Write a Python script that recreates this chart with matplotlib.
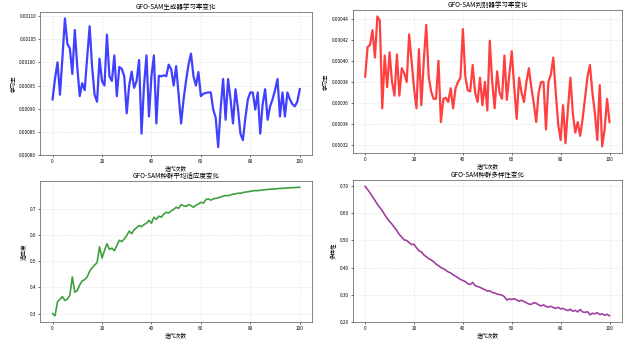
import matplotlib
matplotlib.use("Agg")
import matplotlib.pyplot as plt
import numpy as np

plt.rcParams['font.family'] = ['Noto Sans CJK SC', 'DejaVu Sans']
plt.rcParams['axes.unicode_minus'] = False

iterations = list(range(101))

gen_lr = [
    0.000920, 0.000965, 0.001000, 0.000930, 0.001010, 0.001095, 0.001040, 0.001030, 0.000975, 0.001070,
    0.000990, 0.000927, 0.000955, 0.000940, 0.001010, 0.001078, 0.000990, 0.000930, 0.000915, 0.001008,
    0.000960, 0.000950, 0.001060, 0.000970, 0.000960, 0.001015, 0.000927, 0.000990, 0.000986, 0.000970,
    0.000890, 0.000950, 0.000980, 0.000945, 0.000960, 0.001005, 0.000846, 0.000950, 0.001015, 0.000883,
    0.000970, 0.001015, 0.000868, 0.000971, 0.000970, 0.000972, 0.000970, 0.000995, 0.000985, 0.000950,
    0.000992, 0.000930, 0.000868, 0.000920, 0.000960, 0.000995, 0.001019, 0.000970, 0.000950, 0.000979,
    0.000927, 0.000932, 0.000934, 0.000935, 0.000935, 0.000898, 0.000880, 0.000817, 0.000900, 0.000964,
    0.000876, 0.000964, 0.000920, 0.000868, 0.000942, 0.000900, 0.000846, 0.000832, 0.000880, 0.000920,
    0.000935, 0.000935, 0.000898, 0.000935, 0.000846, 0.000910, 0.000942, 0.000876, 0.000905, 0.000920,
    0.000940, 0.000964, 0.000883, 0.000935, 0.000883, 0.000935, 0.000920, 0.000910, 0.000905, 0.000915,
    0.000942,
]

disc_lr = [
    0.000385, 0.000413, 0.000415, 0.000429, 0.000403, 0.000442, 0.000438, 0.000355, 0.000405, 0.000375,
    0.000408, 0.000380, 0.000367, 0.000406, 0.000367, 0.000393, 0.000388, 0.000380, 0.000425, 0.000400,
    0.000374, 0.000355, 0.000411, 0.000358, 0.000400, 0.000434, 0.000385, 0.000371, 0.000364, 0.000364,
    0.000400, 0.000342, 0.000364, 0.000365, 0.000361, 0.000374, 0.000355, 0.000374, 0.000380, 0.000384,
    0.000430, 0.000385, 0.000372, 0.000371, 0.000396, 0.000370, 0.000361, 0.000384, 0.000358, 0.000380,
    0.000353, 0.000419, 0.000380, 0.000355, 0.000390, 0.000370, 0.000364, 0.000405, 0.000363, 0.000387,
    0.000409, 0.000375, 0.000345, 0.000384, 0.000370, 0.000361, 0.000380, 0.000393, 0.000375, 0.000360,
    0.000342, 0.000370, 0.000380, 0.000380, 0.000335, 0.000380, 0.000387, 0.000403, 0.000370, 0.000340,
    0.000325, 0.000358, 0.000322, 0.000355, 0.000384, 0.000350, 0.000332, 0.000342, 0.000329, 0.000345,
    0.000365, 0.000385, 0.000396, 0.000370, 0.000351, 0.000325, 0.000377, 0.000319, 0.000335, 0.000364,
    0.000342,
]

fitness = [
    0.300, 0.292, 0.345, 0.355, 0.365, 0.350, 0.356, 0.370, 0.440, 0.382,
    0.388, 0.410, 0.425, 0.430, 0.440, 0.462, 0.475, 0.485, 0.495, 0.555,
    0.512, 0.540, 0.567, 0.545, 0.550, 0.540, 0.560, 0.580, 0.575, 0.585,
    0.598, 0.615, 0.605, 0.620, 0.628, 0.636, 0.632, 0.640, 0.645, 0.656,
    0.645, 0.668, 0.660, 0.672, 0.668, 0.680, 0.687, 0.684, 0.692, 0.698,
    0.706, 0.702, 0.716, 0.712, 0.709, 0.716, 0.712, 0.706, 0.714, 0.718,
    0.725, 0.722, 0.735, 0.738, 0.733, 0.738, 0.740, 0.742, 0.745, 0.748,
    0.751, 0.750, 0.753, 0.756, 0.757, 0.760, 0.759, 0.762, 0.764, 0.765,
    0.767, 0.768, 0.770, 0.769, 0.771, 0.772, 0.773, 0.774, 0.775, 0.775,
    0.776, 0.777, 0.778, 0.778, 0.779, 0.780, 0.780, 0.781, 0.781, 0.782,
    0.782,
]

diversity = [
    0.700, 0.688, 0.676, 0.662, 0.648, 0.634, 0.622, 0.610, 0.595, 0.582,
    0.570, 0.560, 0.548, 0.536, 0.522, 0.512, 0.502, 0.500, 0.492, 0.485,
    0.486, 0.473, 0.462, 0.458, 0.447, 0.440, 0.433, 0.428, 0.422, 0.413,
    0.407, 0.400, 0.396, 0.390, 0.384, 0.380, 0.373, 0.368, 0.362, 0.356,
    0.352, 0.348, 0.340, 0.337, 0.345, 0.333, 0.330, 0.327, 0.322, 0.318,
    0.313, 0.314, 0.308, 0.306, 0.302, 0.300, 0.298, 0.292, 0.280, 0.284,
    0.282, 0.285, 0.280, 0.276, 0.279, 0.274, 0.270, 0.265, 0.264, 0.270,
    0.268, 0.262, 0.258, 0.262, 0.256, 0.254, 0.257, 0.252, 0.249, 0.253,
    0.247, 0.249, 0.244, 0.241, 0.246, 0.238, 0.242, 0.236, 0.245, 0.236,
    0.234, 0.237, 0.225, 0.231, 0.229, 0.233, 0.226, 0.229, 0.224, 0.227,
    0.222,
]

titles = [
    "GFO-SAM生成器学习率变化",
    "GFO-SAM判别器学习率变化",
    "GFO-SAM种群平均适应度变化",
    "GFO-SAM种群多样性变化",
]
ylabels = ["学习率", "学习率", "适应度", "多样性"]
xlabel = "迭代次数"
colors = ["blue", "red", "green", "purple"]
widths = [1.6, 1.6, 1.2, 1.2]
series = [gen_lr, disc_lr, fitness, diversity]

fig = plt.figure(figsize=(6.28, 3.42), dpi=100)
positions = [
    [0.064, 0.547, 0.433, 0.418],
    [0.562, 0.553, 0.428, 0.418],
    [0.064, 0.058, 0.433, 0.413],
    [0.562, 0.058, 0.428, 0.416],
]

for pos, data, title, ylab, col, lw in zip(positions, series, titles, ylabels, colors, widths):
    ax = fig.add_axes(pos)
    ax.plot(iterations, data, color=col, linewidth=lw, alpha=0.75)
    ax.set_title(title, fontsize=4.7, pad=2)
    ax.set_xlabel(xlabel, fontsize=4.0, labelpad=1)
    ax.set_ylabel(ylab, fontsize=4.0, labelpad=2)
    ax.grid(True, linestyle='--', alpha=0.35, linewidth=0.4)
    ax.tick_params(labelsize=3.3, length=1.5, width=0.4, pad=1.5)
    ax.set_xticks([0, 20, 40, 60, 80, 100])
    for s in ax.spines.values():
        s.set_linewidth(0.5)
        s.set_color('#555555')

axes = fig.axes
axes[0].set_yticks([0.00080, 0.00085, 0.00090, 0.00095, 0.00100, 0.00105, 0.00110])
axes[0].yaxis.set_major_formatter(matplotlib.ticker.FormatStrFormatter('%.5f'))
axes[1].set_yticks([0.00032, 0.00034, 0.00036, 0.00038, 0.00040, 0.00042, 0.00044])
axes[1].yaxis.set_major_formatter(matplotlib.ticker.FormatStrFormatter('%.5f'))
axes[2].set_yticks([0.3, 0.4, 0.5, 0.6, 0.7])
axes[3].set_yticks([0.2, 0.3, 0.4, 0.5, 0.6, 0.7])
axes[3].yaxis.set_major_formatter(matplotlib.ticker.FormatStrFormatter('%.2f'))

fig.savefig("out.png", dpi=100)
